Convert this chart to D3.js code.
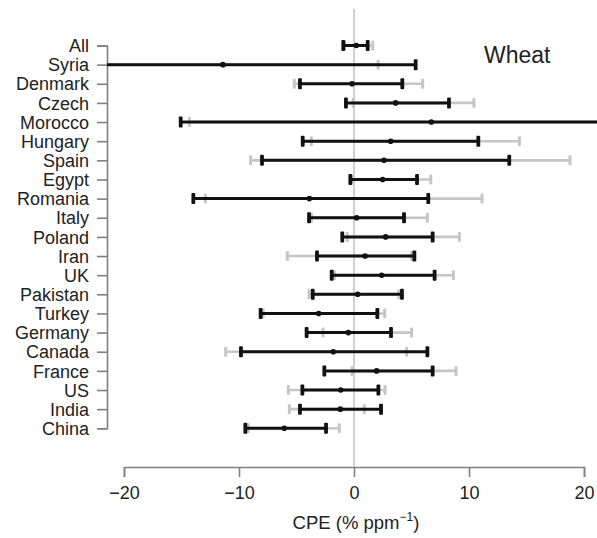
<!DOCTYPE html>
<html>
<head>
<meta charset="utf-8">
<script src="https://cdn.jsdelivr.net/npm/d3@7"></script>
<style>
  body { margin: 0; background: #fff; }
  svg text { font-family: "Liberation Sans", Arial, sans-serif; }
</style>
</head>
<body>
<div id="chart"></div>
<script>
var countries = ["All", "Syria", "Denmark", "Czech", "Morocco", "Hungary", "Spain", "Egypt", "Romania", "Italy",
  "Poland", "Iran", "UK", "Pakistan", "Turkey", "Germany", "Canada", "France", "US", "India", "China"];

// black interval, median and grey interval (CPE, % ppm-1)
var blackLow  = [-0.93, -30, -4.7, -0.7, -15.07, -4.46, -8.0, -0.32, -13.97, -3.91, -1.02, -3.22, -1.94, -3.59, -8.12, -4.12, -9.83, -2.58, -4.49, -4.7, -9.45];
var median    = [0.2, -11.4, -0.17, 3.62, 6.72, 3.19, 2.61, 2.49, -3.88, 0.23, 2.75, 0.96, 2.41, 0.32, -3.07, -0.49, -1.8, 1.97, -1.16, -1.19, -6.06];
var blackHigh = [1.19, 5.36, 4.2, 8.26, 30, 10.81, 13.5, 5.48, 6.46, 4.35, 6.84, 5.25, 7.01, 4.17, 2.03, 3.22, 6.38, 6.84, 2.12, 2.35, -2.43];
var greyLow   = [-0.8, -30, -5.19, -0.06, -14.3, -3.71, -8.99, -0.2, -12.93, -3.7, -0.58, -5.8, -1.7, -3.91, -7.9, -2.7, -11.16, -0.17, -5.71, -5.62, -9.2];
var greyHigh  = [1.63, 2.1, 5.97, 10.43, 30, 14.38, 18.78, 6.67, 11.13, 6.38, 9.16, 5.0, 8.64, 3.9, 2.67, 5.01, 4.58, 8.87, 2.7, 0.9, -1.28];

var xTicks = [-20, -10, 0, 10, 20];

var width = 597, height = 538;

var data = countries.map(function(c, i) {
  return {name: c, lo: blackLow[i], mid: median[i], hi: blackHigh[i], glo: greyLow[i], ghi: greyHigh[i]};
});

var svg = d3.select("#chart")
  .append("svg")
  .attr("width", width)
  .attr("height", height);

var x = d3.scaleLinear()
  .domain([-20, 20])
  .range([124, 584]);

var y = d3.scalePoint()
  .domain(countries)
  .range([45.5, 428.3]);

svg.append("defs").append("clipPath")
    .attr("id", "clip")
  .append("rect")
    .attr("x", 107)
    .attr("y", 0)
    .attr("width", width - 107)
    .attr("height", height);

// x axis
var xAxis = svg.append("g")
  .attr("transform", "translate(0,467)")
  .call(d3.axisBottom(x).tickValues(xTicks).tickSize(10).tickSizeOuter(10).tickPadding(9));

// y axis
var yAxis = svg.append("g")
  .attr("transform", "translate(107,0)")
  .call(d3.axisLeft(y).tickSize(10).tickSizeOuter(10).tickPadding(8));

[xAxis, yAxis].forEach(function(a) {
  a.selectAll("path, line").attr("stroke", "#808080").attr("stroke-width", 1.6);
  a.selectAll("text").attr("fill", "#222").style("font-size", "18px");
});
yAxis.selectAll("text").attr("dy", "0.34em");

// zero line
svg.append("line")
  .attr("x1", x(0)).attr("x2", x(0))
  .attr("y1", 9).attr("y2", 467)
  .attr("stroke", "#c0c0c0")
  .attr("stroke-width", 1.5);

var plot = svg.append("g").attr("clip-path", "url(#clip)");

function drawRange(lo, hi, color, lw, capW, capH) {
  var g = plot.append("g");
  g.selectAll("line.bar")
    .data(data)
    .enter()
    .append("line")
      .attr("x1", function(d) { return x(d[lo]); })
      .attr("x2", function(d) { return x(d[hi]); })
      .attr("y1", function(d) { return y(d.name); })
      .attr("y2", function(d) { return y(d.name); })
      .attr("stroke", color)
      .attr("stroke-width", lw);
  [lo, hi].forEach(function(k) {
    g.selectAll("rect.cap" + k)
      .data(data)
      .enter()
      .append("rect")
        .attr("x", function(d) { return x(d[k]) - capW / 2; })
        .attr("y", function(d) { return y(d.name) - capH / 2; })
        .attr("width", capW)
        .attr("height", capH)
        .attr("rx", 1)
        .attr("fill", color);
  });
}

drawRange("glo", "ghi", "#c6c6c6", 2.6, 3, 10);
drawRange("lo", "hi", "#111", 3, 3.8, 11);

plot.selectAll("circle.med")
  .data(data)
  .enter()
  .append("circle")
    .attr("cx", function(d) { return x(d.mid); })
    .attr("cy", function(d) { return y(d.name); })
    .attr("r", 2.8)
    .attr("fill", "#111");

svg.append("text")
  .attr("x", 484)
  .attr("y", 63)
  .attr("fill", "#222")
  .style("font-size", "23px")
  .text("Wheat");

var title = svg.append("text")
  .attr("x", x(0) + 2)
  .attr("y", 529)
  .attr("text-anchor", "middle")
  .attr("fill", "#222")
  .style("font-size", "18.5px");
title.append("tspan").text("CPE (% ppm");
title.append("tspan").attr("dy", -8).style("font-size", "12px").text("\u22121");
title.append("tspan").attr("dy", 8).text(")");
</script>
</body>
</html>
